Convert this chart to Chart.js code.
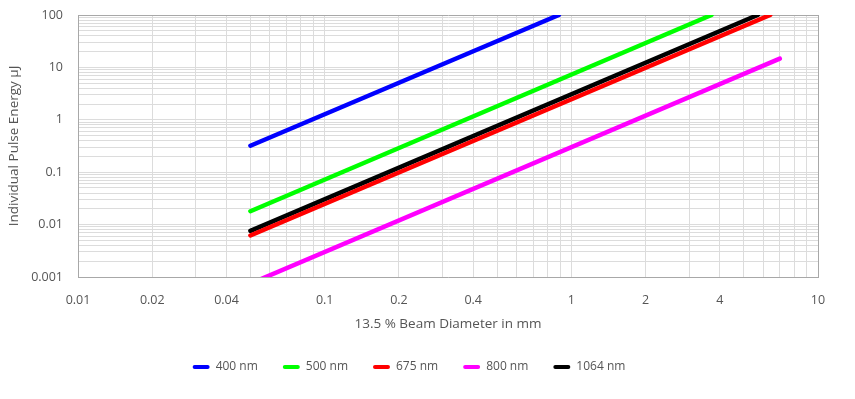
<!DOCTYPE html>
<html>
<head>
<meta charset="utf-8">
<script src="https://cdn.jsdelivr.net/npm/chart.js@4.4.0/dist/chart.umd.min.js"></script>
<style>
  html, body { margin: 0; padding: 0; background: #fff; }
  #wrap { width: 855px; height: 399px; position: relative; }
</style>
</head>
<body>
<div id="wrap"><canvas id="energyChart"></canvas></div>
<script>
// --- DATA ---
const seriesNames = ['400 nm', '500 nm', '675 nm', '800 nm', '1064 nm'];
const seriesColors = ['#0000ff', '#00ff00', '#ff0000', '#ff00ff', '#000000'];

// beam diameter (mm) / pulse energy (µJ) endpoints per series
const d400 = [0.05, 0.89];   const e400 = [0.32, 100];
const d500 = [0.05, 3.7];    const e500 = [0.018, 100];
const d675 = [0.05, 6.4];    const e675 = [0.0062, 100];
const d800 = [0.05, 7];      const e800 = [0.00075, 14.7];
const d1064 = [0.05, 5.7];   const e1064 = [0.0076, 100];

const xTickLabels = [0.01, 0.02, 0.04, 0.1, 0.2, 0.4, 1, 2, 4, 10];
const yTickLabels = [0.001, 0.01, 0.1, 1, 10, 100];

const xs = [d400, d500, d675, d800, d1064];
const ys = [e400, e500, e675, e800, e1064];

// minor grid lines 1..9 per decade
function logGrid(minExp, maxExp) {
    const out = [];
    for (let e = minExp; e < maxExp; e++) {
        for (let k = 1; k <= 9; k++) out.push(Number((k * Math.pow(10, e)).toPrecision(6)));
    }
    out.push(Number(Math.pow(10, maxExp).toPrecision(6)));
    return out;
}
const has = (arr, v) => arr.some(a => Math.abs(a - v) / a < 1e-6);

const tickFont = { family: '"Open Sans", sans-serif', size: 12.5 };
const titleFont = { family: '"Open Sans", sans-serif', size: 13.5 };
const legendFont = { family: '"Open Sans", sans-serif', size: 12 };
const textColor = '#555';
const gridColor = '#dcdcdc';
const edgeColor = '#a8a8a8';

const datasets = seriesNames.map((name, i) => ({
    label: name,
    data: xs[i].map((x, j) => ({ x: x, y: ys[i][j] })),
    borderColor: seriesColors[i],
    backgroundColor: seriesColors[i],
    borderWidth: 4.5,
    borderCapStyle: 'round',
    pointRadius: 0,
    tension: 0
}));

new Chart(document.getElementById('energyChart'), {
    type: 'line',
    data: { datasets },
    options: {
        responsive: true,
        maintainAspectRatio: false,
        animation: false,
        layout: { padding: { top: 15, right: 37, left: 0, bottom: 16 } },
        scales: {
            x: {
                type: 'logarithmic',
                min: 0.01,
                max: 10,
                afterBuildTicks: s => { s.ticks = logGrid(-2, 1).map(v => ({ value: v })); },
                afterFit: s => { s.height = 59; },
                grid: {
                    drawTicks: false,
                    color: c => (c.tick && has([10], c.tick.value)) ? edgeColor : gridColor
                },
                border: { display: true, color: edgeColor, width: 1 },
                ticks: {
                    autoSkip: false,
                    maxRotation: 0,
                    padding: 16,
                    color: textColor,
                    font: tickFont,
                    callback: v => has(xTickLabels, v) ? String(v) : ''
                },
                title: {
                    display: true,
                    text: '13.5 % Beam Diameter in mm',
                    color: textColor,
                    font: titleFont,
                    padding: { top: 0, bottom: 4 }
                }
            },
            y: {
                type: 'logarithmic',
                min: 0.001,
                max: 100,
                afterBuildTicks: s => { s.ticks = logGrid(-3, 2).map(v => ({ value: v })); },
                afterFit: s => { s.width = 78; s.paddingTop = 7; s.paddingBottom = 7; },
                grid: {
                    drawTicks: false,
                    color: c => (c.tick && has([100], c.tick.value)) ? edgeColor : gridColor
                },
                border: { display: true, color: edgeColor, width: 1 },
                ticks: {
                    autoSkip: false,
                    padding: 15,
                    color: textColor,
                    font: tickFont,
                    callback: v => has(yTickLabels, v) ? String(v) : ''
                },
                title: {
                    display: true,
                    text: 'Individual Pulse Energy µJ',
                    color: textColor,
                    font: titleFont,
                    padding: { top: 6, bottom: 0 }
                }
            }
        },
        plugins: {
            legend: {
                position: 'bottom',
                labels: {
                    boxWidth: 17,
                    boxHeight: 4,
                    useBorderRadius: true,
                    borderRadius: 2,
                    padding: 25,
                    color: textColor,
                    font: legendFont,
                    generateLabels: chart => Chart.defaults.plugins.legend.labels.generateLabels(chart)
                        .map(l => Object.assign(l, { lineWidth: 0 }))
                }
            },
            tooltip: { enabled: false }
        }
    }
});
</script>
</body>
</html>
